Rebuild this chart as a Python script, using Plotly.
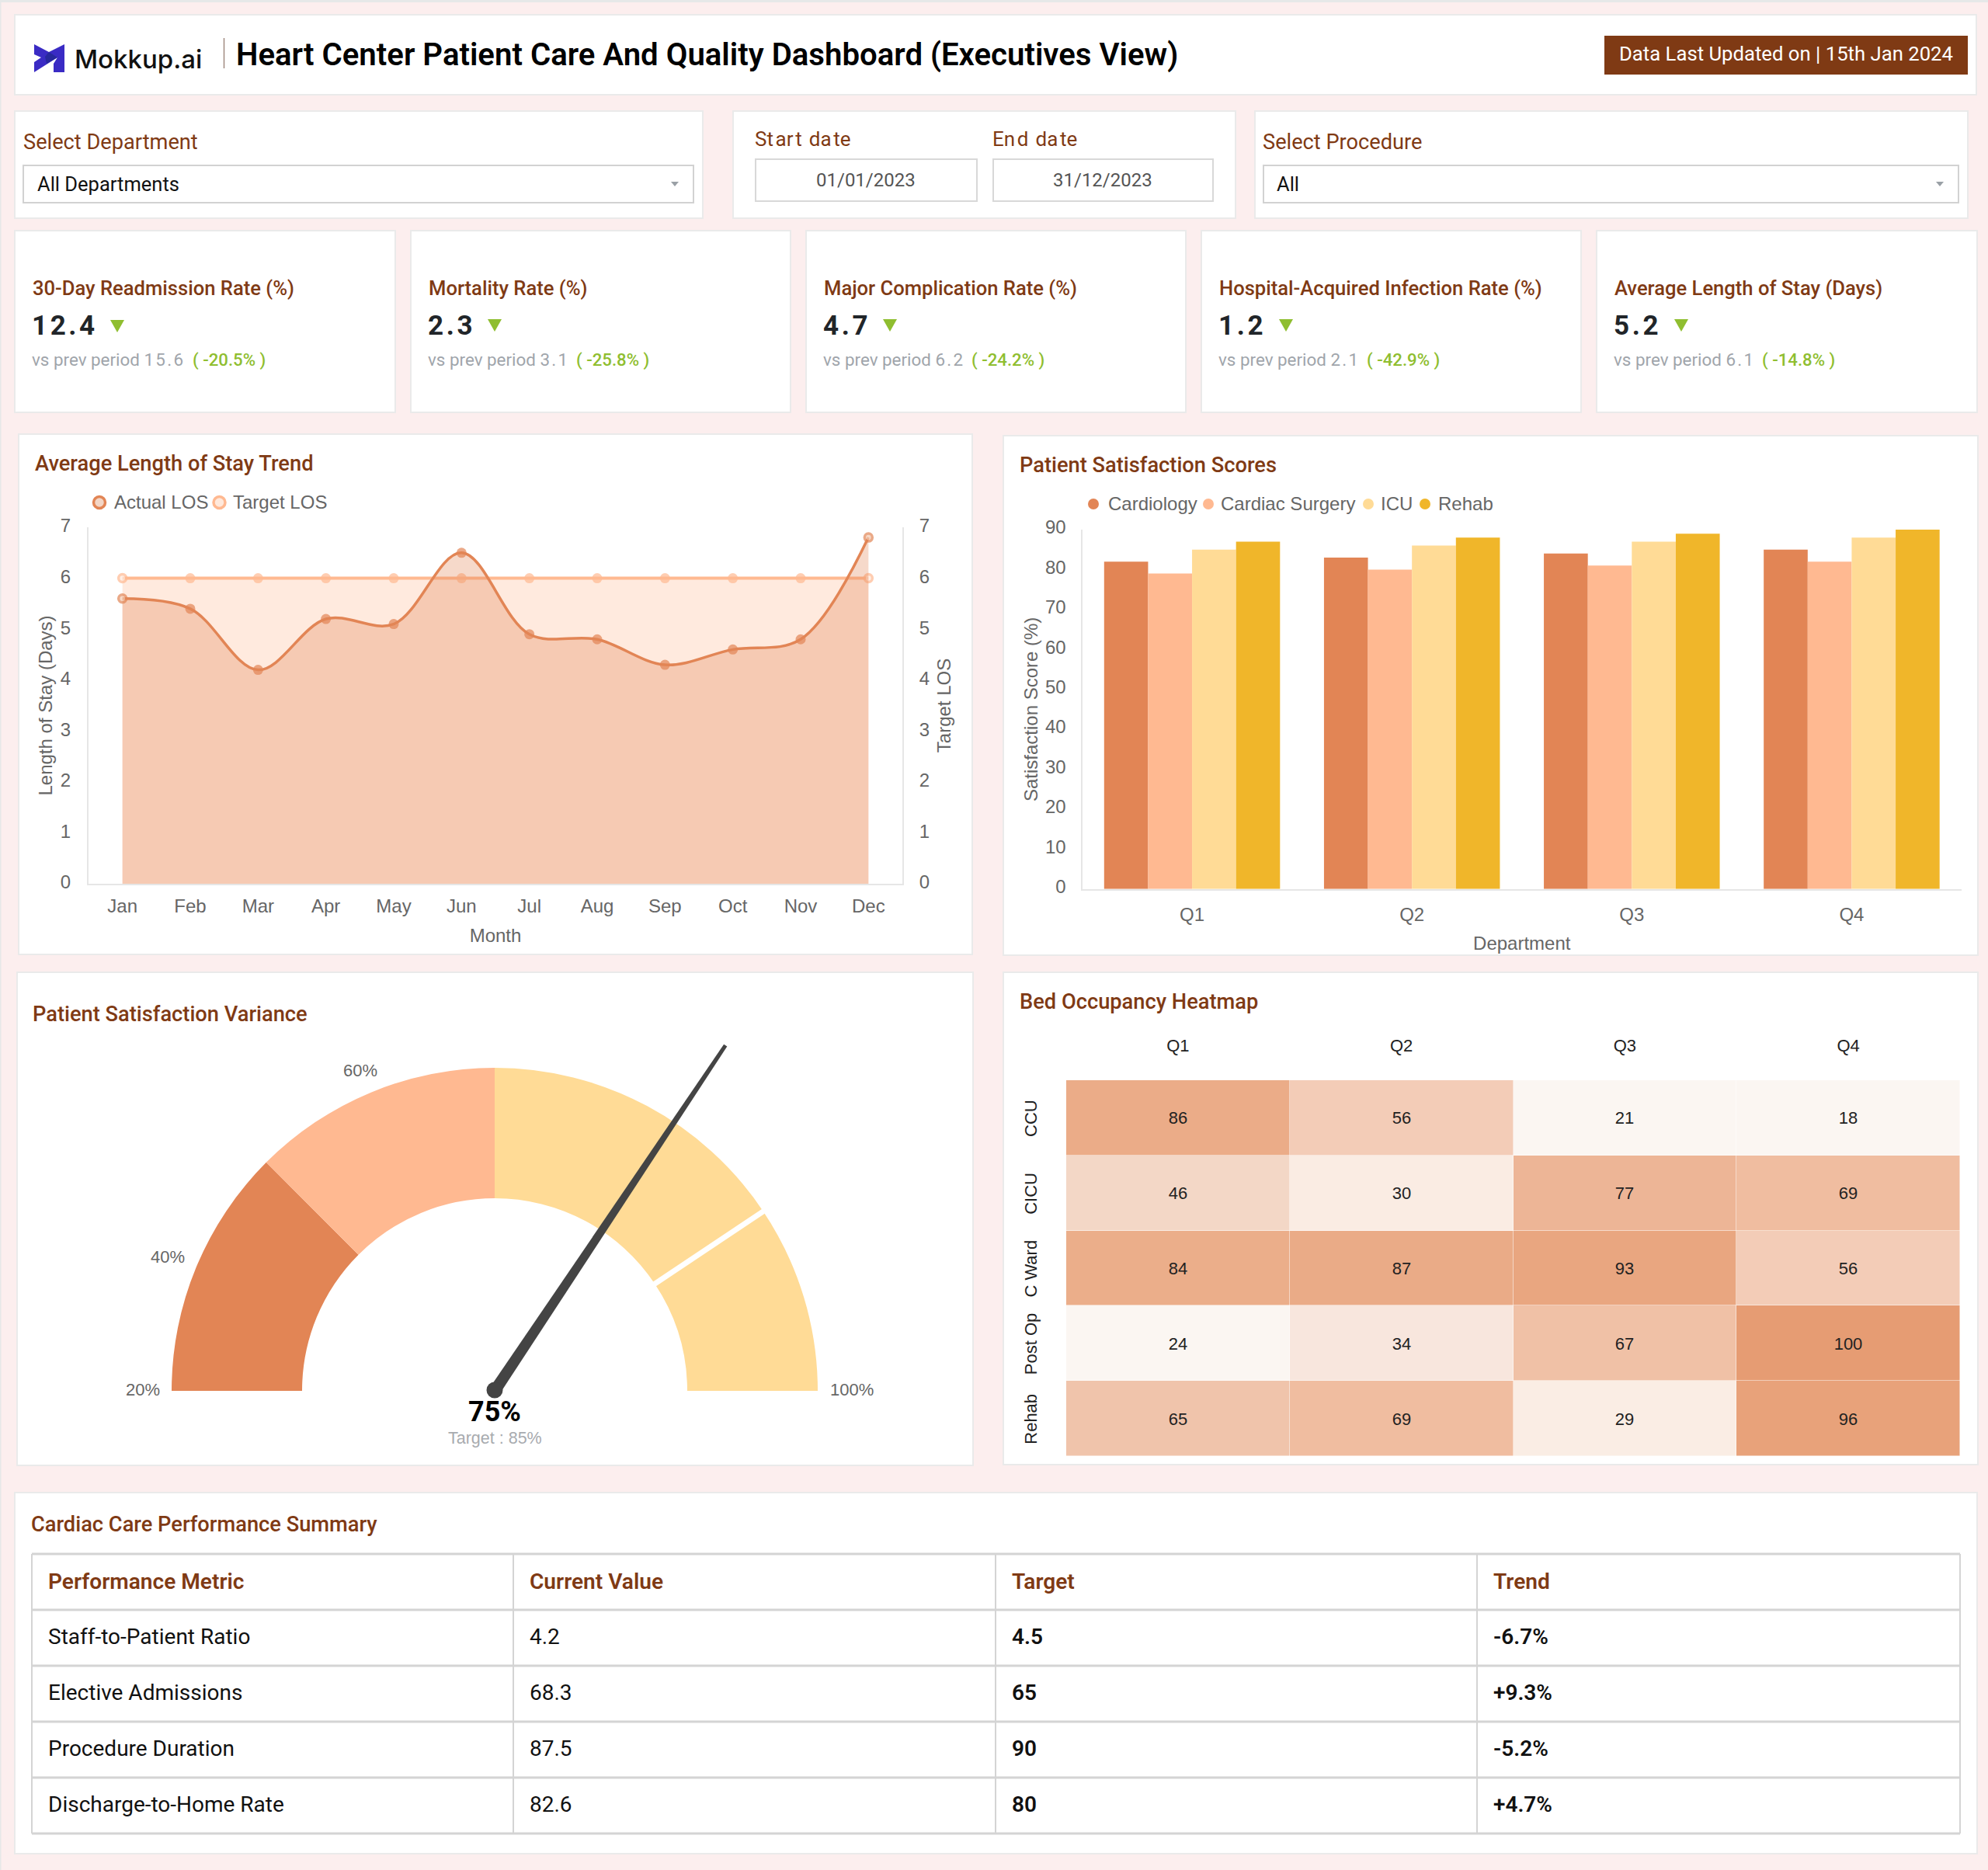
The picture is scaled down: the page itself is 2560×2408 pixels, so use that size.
import math
import plotly.graph_objects as go

W, H = 2560, 2408
BG = "#FCEEEE"
BROWN = "#7F3A14"
ORANGE = "#E28555"
PEACH = "#FFB991"
SAND = "#FFDB96"
GOLD = "#F0B62A"
GREEN = "#8FBE30"
GRAY = "#666666"
FONT = "Roboto"
AXFONT = "Liberation Sans"
SECTION = 27.25

months = ["Jan", "Feb", "Mar", "Apr", "May", "Jun", "Jul", "Aug", "Sep", "Oct", "Nov", "Dec"]
actual_los = [5.6, 5.4, 4.2, 5.2, 5.1, 6.5, 4.9, 4.8, 4.3, 4.6, 4.8, 6.8]
target_los = [6, 6, 6, 6, 6, 6, 6, 6, 6, 6, 6, 6]

quarters = ["Q1", "Q2", "Q3", "Q4"]
cardiology = [82, 83, 84, 85]
cardiac_surgery = [79, 80, 81, 82]
icu = [85, 86, 87, 88]
rehab = [87, 88, 89, 90]

wards = ["CCU", "CICU", "C Ward", "Post Op", "Rehab"]
ccu = [86, 56, 21, 18]
cicu = [46, 30, 77, 69]
c_ward = [84, 87, 93, 56]
post_op = [24, 34, 67, 100]
rehab_beds = [65, 69, 29, 96]

gauge_stops = [20, 40, 60, 85, 100]
gauge_value = 75
gauge_target = 85

kpi_titles = ["30-Day Readmission Rate (%)", "Mortality Rate (%)", "Major Complication Rate (%)",
              "Hospital-Acquired Infection Rate (%)", "Average Length of Stay (Days)"]
kpi_values = ["12.4", "2.3", "4.7", "1.2", "5.2"]
kpi_prev = ["15.6", "3.1", "6.2", "2.1", "6.1"]
kpi_delta = ["-20.5%", "-25.8%", "-24.2%", "-42.9%", "-14.8%"]

table_header = ["Performance Metric", "Current Value", "Target", "Trend"]
table_metric = ["Staff-to-Patient Ratio", "Elective Admissions", "Procedure Duration", "Discharge-to-Home Rate"]
table_current = ["4.2", "68.3", "87.5", "82.6"]
table_target = ["4.5", "65", "90", "80"]
table_trend = ["-6.7%", "+9.3%", "-5.2%", "+4.7%"]


def px(x):
    return x / W


def py(y):
    return 1 - y / H


shapes = []
annotations = []


def rect(x0, y0, x1, y1, fill="white", line="#EAEAEA", lw=2, layer="below"):
    shapes.append(dict(type="rect", xref="paper", yref="paper", x0=px(x0), x1=px(x1), y0=py(y0), y1=py(y1),
                       fillcolor=fill, line=dict(color=line, width=lw), layer=layer))


def seg_line(x0, y0, x1, y1, color, width, layer="below"):
    shapes.append(dict(type="line", xref="paper", yref="paper", x0=px(x0), x1=px(x1), y0=py(y0), y1=py(y1),
                       line=dict(color=color, width=width), layer=layer))


def circle(cx, cy, r, fill, line=None, lw=0, layer="above"):
    shapes.append(dict(type="circle", xref="paper", yref="paper", x0=px(cx - r), x1=px(cx + r),
                       y0=py(cy + r), y1=py(cy - r), fillcolor=fill,
                       line=dict(color=line or fill, width=lw), layer=layer))


def poly(points, fill, layer="above"):
    d = "M " + " L ".join(f"{px(a):.6f},{py(b):.6f}" for a, b in points) + " Z"
    shapes.append(dict(type="path", xref="paper", yref="paper", path=d, fillcolor=fill, line=dict(width=0), layer=layer))


def text(x, y, s, size, color="#000000", anchor="left", weight=400, family=FONT, angle=0):
    annotations.append(dict(x=px(x), y=py(y), xref="paper", yref="paper", text=s, showarrow=False,
                            xanchor=anchor, yanchor="middle", borderpad=0, borderwidth=0, textangle=angle,
                            font=dict(size=size, color=color, family=family, weight=weight)))


def spaced(s):
    return "\u200a".join(s)


def loose(s):
    out = ""
    for k, ch in enumerate(s):
        out += ch + ("\u200a" if k % 2 == 1 and k < len(s) - 1 else "")
    return out


# page strips
rect(0, 0, W, 3, fill="#E6E8E8", line="#E6E8E8", lw=0)
rect(0, 0, 1.5, H, fill="#E6E8E8", line="#E6E8E8", lw=0)

# header
rect(19, 19, 2545, 122)
poly([(44, 57), (63, 67), (83, 57), (83, 93), (69, 93), (69, 82), (74, 74), (44, 93), (44, 80), (53, 74), (44, 70)], "#3A2BC4")
poly([(63, 67), (74, 74), (60, 82), (58, 73)], "#27289C")
text(96, 76, "Mokkup.ai", 33, "#111111", weight=500, family="Inter")
seg_line(288.5, 49, 288.5, 88, "#A08A80", 1.5)
text(304, 70, "Heart Center Patient Care And Quality Dashboard (Executives View)", 40.16, "#000000", weight=600)
rect(2066, 46, 2534, 96, fill="#7F3A14", line="#7F3A14", lw=0)
text(2300, 69, "Data Last Updated on | 15th Jan 2024", 25.7, "#FFFFFF", anchor="center")

# filters
rect(19, 143, 905, 281)
text(30, 183, "Select Department", 27.2, BROWN)
rect(30, 213, 893, 261, line="#D2D2D2", lw=2)
text(48, 237, "All Departments", 25.5, "#111111")
poly([(864, 234), (874, 234), (869, 240)], "#9AA0A6")

rect(944, 143, 1591, 281)
text(972, 179, loose("Start date"), 26, BROWN)
rect(973, 205, 1258, 259, line="#D8D8D8", lw=2)
text(1115, 232, "01/01/2023", 24, "#555555", anchor="center")
text(1278, 179, loose("End date"), 26, BROWN)
rect(1279, 205, 1562, 259, line="#D8D8D8", lw=2)
text(1420, 232, "31/12/2023", 24, "#555555", anchor="center")

rect(1616, 143, 2534, 281)
text(1626, 183, "Select Procedure", 27.2, BROWN)
rect(1627, 213, 2522, 261, line="#D2D2D2", lw=2)
text(1644, 237, "All", 25.5, "#111111")
poly([(2493, 234), (2503, 234), (2498, 240)], "#9AA0A6")

# KPI cards
card_x = [(19, 509), (529, 1018), (1038, 1527), (1547, 2036), (2056, 2546)]
tri_x = [151, 637, 1146, 1656, 2165]
for i, (x0, x1) in enumerate(card_x):
    rect(x0, 297, x1, 531)
    tx = x0 + 23
    text(tx, 371, kpi_titles[i], 25.6, BROWN, weight=500)
    text(tx - 1, 420, spaced(kpi_values[i]), 35, "#212529", weight=700)
    yy = 419 if i else 420
    poly([(tri_x[i] - 9, yy - 8), (tri_x[i] + 9, yy - 8), (tri_x[i], yy + 8)], GREEN)
    text(tx - 1, 463, f"vs prev period {spaced(kpi_prev[i])}", 22.4, "#A0A5AB")
    text(tx + 206 if i == 0 else tx + 190, 463, f"( {kpi_delta[i]} )", 22.2, GREEN, weight=500)

# chart cards
rect(24, 559, 1252, 1229)
text(45, 597, "Average Length of Stay Trend", SECTION, BROWN, weight=500)
rect(1292, 561, 2547, 1230)
text(1313, 599, "Patient Satisfaction Scores", SECTION, BROWN, weight=500)
rect(22, 1252, 1253, 1887)
text(42, 1306, "Patient Satisfaction Variance", SECTION, BROWN, weight=500)
rect(1292, 1252, 2547, 1886)
text(1313, 1290, "Bed Occupancy Heatmap", SECTION, BROWN, weight=500)
rect(19, 1922, 2546, 2387)
text(40, 1963, "Cardiac Care Performance Summary", SECTION, BROWN, weight=500)

fig = go.Figure()


def ends(inner, base):
    return [inner] + [base] * (len(months) - 2) + [inner]


# line chart
fig.add_trace(go.Scatter(x=months, y=target_los, name="Target LOS", xaxis="x", yaxis="y2", mode="lines+markers",
                         line=dict(color=PEACH, width=4, shape="spline"),
                         marker=dict(size=ends(10, 13), color=ends("#FFE9DC", PEACH),
                                     line=dict(color=PEACH, width=ends(3.5, 0))),
                         fill="tozeroy", fillcolor="rgba(255,185,145,0.3)"))
fig.add_trace(go.Scatter(x=months, y=actual_los, name="Actual LOS", xaxis="x", yaxis="y", mode="lines+markers",
                         line=dict(color=ORANGE, width=3.5, shape="spline", smoothing=1),
                         marker=dict(size=ends(10, 13), color=ends("#F3C9B0", ORANGE),
                                     line=dict(color=ORANGE, width=ends(3.5, 0))),
                         fill="tozeroy", fillcolor="rgba(226,133,85,0.31)"))
circle(128, 647, 7.5, "#F3D6C6", ORANGE, 3.5)
text(147, 646, "Actual LOS", 24, GRAY, family=AXFONT)
circle(282.5, 647, 7.5, "#FFE9DC", PEACH, 3.5)
text(300, 646, "Target LOS", 24, GRAY, family=AXFONT)

# bars
for name, vals, col in [("Cardiology", cardiology, ORANGE), ("Cardiac Surgery", cardiac_surgery, PEACH),
                        ("ICU", icu, SAND), ("Rehab", rehab, GOLD)]:
    fig.add_trace(go.Bar(x=quarters, y=vals, name=name, marker=dict(color=col, line=dict(width=0)),
                         xaxis="x2", yaxis="y3"))
for mx, tx, s, col in [(1408, 1427, "Cardiology", ORANGE), (1556, 1572, "Cardiac Surgery", PEACH),
                       (1762, 1778, "ICU", SAND), (1835, 1852, "Rehab", GOLD)]:
    circle(mx, 649, 7, col)
    text(tx, 648, s, 24, GRAY, family=AXFONT)

# gauge
cx, cy, R, r = 637, 1791, 416, 248
seg = [b - a for a, b in zip(gauge_stops[:-1], gauge_stops[1:])]
fig.add_trace(go.Pie(values=seg + [gauge_stops[-1] - gauge_stops[0]], sort=False, direction="clockwise", rotation=270,
                     hole=r / R, textinfo="none", hoverinfo="skip", showlegend=False,
                     marker=dict(colors=[ORANGE, PEACH, SAND, SAND, "rgba(0,0,0,0)"], line=dict(width=0)),
                     domain=dict(x=[px(cx - R), px(cx + R)], y=[py(cy + R), py(cy - R)])))


def gauge_angle(v):
    return math.pi * (1 - (v - gauge_stops[0]) / (gauge_stops[-1] - gauge_stops[0]))


ta = gauge_angle(gauge_target)
seg_line(cx + (r - 4) * math.cos(ta), cy - (r - 4) * math.sin(ta),
         cx + (R + 4) * math.cos(ta), cy - (R + 4) * math.sin(ta), "white", 7, layer="above")
na = gauge_angle(gauge_value)
L = 535
ux, uy = math.cos(na), math.sin(na)
nx, ny = -uy, ux
poly([(cx + nx * 7.5, cy - ny * 7.5), (cx + ux * L + nx * 2.5, cy - uy * L - ny * 2.5),
      (cx + ux * L - nx * 2.5, cy - uy * L + ny * 2.5), (cx - nx * 7.5, cy + ny * 7.5)], "#444444")
circle(cx, cy - 1, 10.5, "#444444")
text(206, 1789, f"{gauge_stops[0]}%", 22, GRAY, anchor="right", family=AXFONT)
text(216, 1618, f"{gauge_stops[1]}%", 22, GRAY, anchor="center", family=AXFONT)
text(464, 1378, f"{gauge_stops[2]}%", 22, GRAY, anchor="center", family=AXFONT)
text(1069, 1789, f"{gauge_stops[4]}%", 22, GRAY, family=AXFONT)
text(cx, 1818, f"{gauge_value}%", 36, "#000000", anchor="center", weight=700)
text(cx, 1852, f"Target : {gauge_target}%", 21.5, "#A8ABAF", anchor="center", family=AXFONT)

# heatmap
z = [ccu, cicu, c_ward, post_op, rehab_beds]
cs = [[0, "#FBF6F2"], [6 / 82, "#FBF6F2"], [11 / 82, "#FAEDE4"], [16 / 82, "#F8E6DD"], [28 / 82, "#F3D7C6"],
      [38 / 82, "#F3CCB7"], [47 / 82, "#F0C4AB"], [51 / 82, "#F0BDA0"], [59 / 82, "#EDB596"], [66 / 82, "#EBAE8A"],
      [75 / 82, "#E9A680"], [1, "#E69C73"]]
fig.add_trace(go.Heatmap(z=z, x=quarters, y=wards, text=z, texttemplate="%{text}",
                         textfont=dict(size=22, color="#222222", family=AXFONT),
                         colorscale=cs, zmin=18, zmax=100, showscale=False, xaxis="x3", yaxis="y4", xgap=0.5, ygap=0.5))

# table
col_x = [41, 661, 1282, 1902, 2524]
row_y = [2001, 2073, 2145, 2217, 2289, 2361]
for yv in row_y:
    seg_line(col_x[0], yv, col_x[-1], yv, "#D4D4D4", 3)
for xv in col_x:
    seg_line(xv, row_y[0], xv, row_y[-1], "#D4D4D4", 2)
columns = [table_metric, table_current, table_target, table_trend]
for c, (head, values) in enumerate(zip(table_header, columns)):
    tx = col_x[c] + 21
    text(tx, (row_y[0] + row_y[1]) / 2, head, 28.1, BROWN, weight=600)
    for k, v in enumerate(values):
        text(tx, (row_y[k + 1] + row_y[k + 2]) / 2 - 1.5, v, 28, "#111111", weight=600 if c >= 2 else 400)

axis_line = dict(showline=True, linecolor="#E6E6E6", linewidth=2, showgrid=False, zeroline=False, ticks="outside",
                 tickcolor="rgba(0,0,0,0)", tickfont=dict(size=24, color=GRAY, family=AXFONT))
title_font = dict(size=24, color=GRAY, family=AXFONT)
ink = dict(size=22, color="#222222", family=AXFONT)

fig.update_layout(
    width=W, height=H, margin=dict(l=0, r=0, t=0, b=0, pad=0, autoexpand=False), autosize=False,
    paper_bgcolor=BG, plot_bgcolor="rgba(0,0,0,0)", showlegend=False,
    font=dict(family=AXFONT, size=24, color=GRAY),
    shapes=shapes, annotations=annotations,
    bargap=0.2, bargroupgap=0, barmode="group",
    xaxis=dict(domain=[px(114), px(1162)], anchor="y", range=[-0.5, 11.5], ticklen=6,
               title=dict(text="Month", font=title_font, standoff=17), **axis_line),
    yaxis=dict(domain=[py(1138), py(679)], anchor="x", range=[0, 7], dtick=1, overlaying="y2", ticklen=16,
               ticklabelshift=-2, title=dict(text="Length of Stay (Days)", font=title_font, standoff=3), **axis_line),
    yaxis2=dict(domain=[py(1138), py(679)], anchor="x", range=[0, 7], dtick=1, side="right", ticklen=15,
                ticklabelshift=-2, title=dict(text="Target LOS", font=title_font, standoff=11), **axis_line),
    xaxis2=dict(domain=[px(1393.5), px(2526)], anchor="y3", ticklen=10,
                title=dict(text="Department", font=title_font, standoff=17), **axis_line),
    yaxis3=dict(domain=[py(1144.7), py(682)], anchor="x2", range=[0, 90], dtick=10, ticklen=14,
                ticklabelshift=-3, title=dict(text="Satisfaction Score (%)", font=title_font, standoff=3), **axis_line),
    xaxis3=dict(domain=[px(1373), px(2524)], anchor="y4", side="top", showgrid=False, zeroline=False, ticks="outside",
                ticklen=27, tickcolor="rgba(0,0,0,0)", tickfont=ink),
    yaxis4=dict(domain=[py(1875), py(1391)], anchor="x3", autorange="reversed", showgrid=False, zeroline=False,
                ticks="outside", ticklen=28, tickcolor="rgba(0,0,0,0)", tickangle=-90, ticklabelshift=-4, tickfont=ink),
)

fig.write_html("out.html", post_script="document.body.style.margin='0';", config={"displayModeBar": False})
